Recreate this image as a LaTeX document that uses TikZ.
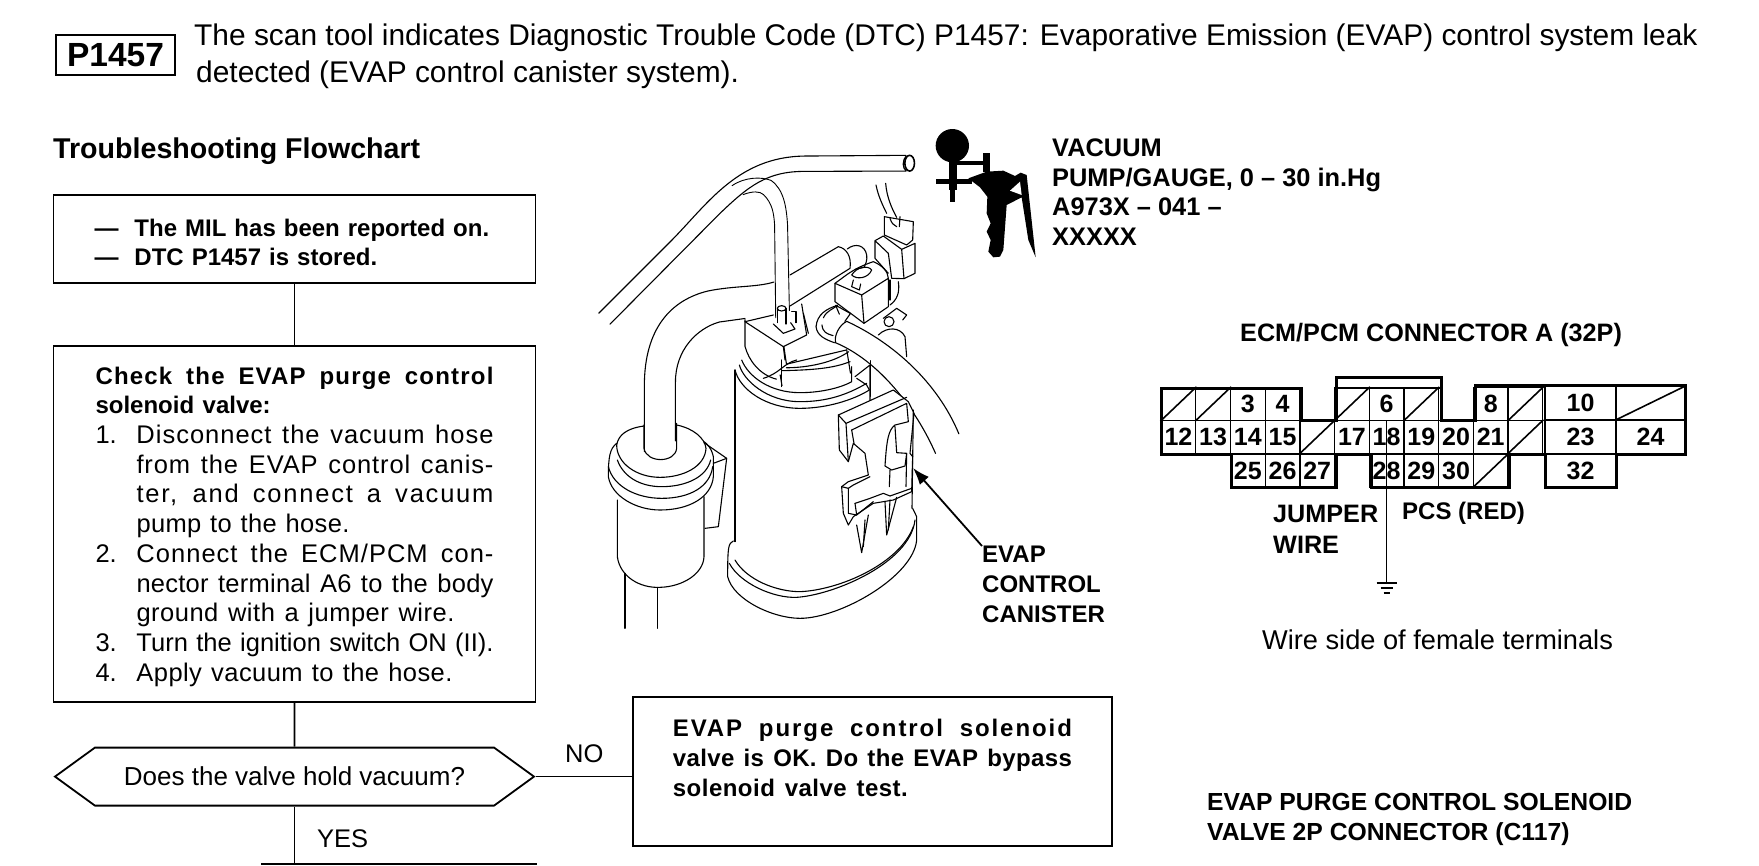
\documentclass[tikz,border=0pt]{standalone}
\usepackage{fontspec}
\setmainfont{Liberation Sans}
\usetikzlibrary{positioning, arrows.meta, shapes.symbols}

\newcommand{\bodyfont}{\fontsize{24}{29.7}\selectfont}
\newcommand{\listfont}{\fontsize{25.5}{29.7}\selectfont}
\newcommand{\fitto}[3]{\makebox[#1][s]{\spaceskip=0pt\xspaceskip=0pt\addfontfeature{LetterSpace=#2}#3}}
\newcommand{\stepline}[4]{\makebox[41pt][l]{#1}\fitto{#2}{#3}{#4}}

\begin{document}
\begin{tikzpicture}[
    x=1pt, y=-1pt,
    flowbox/.style={draw, rectangle, line width=1.8pt, inner sep=0pt, align=left, font=\bodyfont},
    label/.style={anchor=north west, inner sep=0pt, align=left, font=\bodyfont\bfseries},
    wire/.style={line width=1.6pt},
    cell/.style={draw, rectangle, line width=1.3pt, inner sep=0pt, minimum width=34.7pt, minimum height=33pt, font=\fontsize{25}{25}\selectfont\bfseries},
    outline/.style={line width=3pt, line join=miter},
    ink/.style={line width=1.1pt, line join=round, line cap=round},
    dotted ink/.style={line width=0.9pt, line cap=round}
]
\useasboundingbox (0,0) rectangle (1759,865);

% header
\node[draw, line width=2.4pt, minimum width=119pt, minimum height=40pt, inner sep=0pt, font=\fontsize{33.5}{33.5}\selectfont\bfseries] (code) at (115.5,55) {P1457};
\node[anchor=north west, inner sep=0pt, align=left, font=\fontsize{29.9}{37}\selectfont] (intro) at (194,24) {The scan tool indicates Diagnostic Trouble Code (DTC) P1457: Evaporative Emission (EVAP) control system leak\\\hspace*{2pt}detected (EVAP control canister system).};
\node[label, font=\fontsize{28.6}{30}\selectfont\bfseries] (flowtitle) at (53,138) {Troubleshooting Flowchart};

% flowchart
\node[flowbox, minimum width=482pt, minimum height=88pt, text width=400pt] (milbox) at (294.5,239) {\textbf{\rule{0pt}{24pt}\makebox[40pt][l]{---}The MIL has been reported on.}\\ \textbf{\makebox[40pt][l]{---}DTC P1457 is stored.}};
\node[flowbox, font=\listfont, minimum width=482pt, minimum height=356pt, text width=398pt, below=61pt of milbox] (solbox) {\bodyfont\rule{0pt}{23pt}\textbf{\fitto{398pt}{5}{Check the EVAP purge control}}\\ \textbf{solenoid valve:}\listfont\\ \stepline{1.}{357pt}{3.9}{Disconnect the vacuum hose}\\ \stepline{}{357pt}{3.5}{from the EVAP control canis-}\\ \stepline{}{357pt}{7}{ter, and connect a vacuum}\\ \stepline{}{213pt}{1.5}{pump to the hose.}\\ \stepline{2.}{357pt}{4}{Connect the ECM/PCM con-}\\ \stepline{}{357pt}{1}{nector terminal A6 to the body}\\ \stepline{}{318pt}{2}{ground with a jumper wire.}\\ \stepline{3.}{357pt}{0}{Turn the ignition switch ON (II).}\\ \stepline{4.}{316pt}{1.7}{Apply vacuum to the hose.}};
\node[flowbox, font=\fontsize{26}{30}\selectfont, signal, signal to=west and east, signal pointer angle=72, minimum width=479pt, minimum height=58pt, align=center, below=44pt of solbox] (holdbox) {Does the valve hold vacuum?};
\node[flowbox, anchor=north west, minimum width=479pt, minimum height=149pt, text width=399pt] (okbox) at (632,696) {\textbf{\rule{0pt}{20pt}\fitto{399pt}{8}{EVAP purge control solenoid}}\\ \textbf{\fitto{399pt}{1.5}{valve is OK. Do the EVAP bypass}}\\ \textbf{\fitto{235pt}{2}{solenoid valve test.}}\\ \mbox{}};
\coordinate (nextleft) at (261,864);
\coordinate (nextright) at (537,864);

\draw[wire] (milbox) -- (solbox);
\draw[wire] (solbox) -- (holdbox);
\draw[wire] (holdbox.east) -- (holdbox.east -| okbox.west);
\draw[wire] (holdbox.south) -- (holdbox.south |- nextleft);
\draw[wire] (nextleft) -- (nextright);
\node[anchor=base west, inner sep=0pt, font=\fontsize{25.5}{30}\selectfont] (nolabel) at (565,762) {NO};
\node[anchor=base west, inner sep=0pt, font=\fontsize{25.5}{30}\selectfont] (yeslabel) at (317,847) {YES};

% hose to the pump
\begin{scope}[shift={(560,100)}, x=0.37pt, y=-0.357pt]
\draw[ink] (105,597) -- (300,395) .. controls (400,290) and (480,160) .. (660,157) -- (935,155);
\draw[ink] (135,628) -- (430,320) .. controls (510,240) and (560,200) .. (660,200) -- (935,199);
\draw[line width=1.6pt] (945,177) ellipse (13 and 22);
\draw[line width=1.3pt] (936,156) .. controls (925,170) and (925,190) .. (936,199);
\draw[dotted ink] (465,240) .. controls (500,215) and (545,215) .. (570,225) .. controls (605,250) and (612,300) .. (615,350) -- (620,590);
\draw[dotted ink] (495,265) .. controls (520,255) and (540,255) .. (550,265) .. controls (575,290) and (578,320) .. (580,350) -- (583,610);
\draw[ink] (228,985) -- (228,800) .. controls (228,640) and (300,560) .. (400,535) .. controls (470,520) and (530,525) .. (578,510);
\draw[ink] (312,955) -- (312,790) .. controls (312,700) and (370,640) .. (430,622) -- (500,612);
\end{scope}

% solenoid valve and its connector
\begin{scope}[shift={(740,180)}, x=1pt/3, y=-1pt/3]
\draw[ink] (150,285) -- (295,200) .. controls (320,205) and (335,230) .. (330,265) -- (150,378);
\draw[ink] (322,207) .. controls (345,188) and (375,195) .. (380,225) .. controls (382,240) and (378,250) .. (372,262) -- (345,268);
\draw[ink] (285,310) -- (365,345) -- (445,295) -- (445,380) -- (372,430) -- (365,345);
\draw[ink] (285,310) -- (285,365) -- (372,430);
\draw[ink] (285,310) .. controls (320,285) and (340,265) .. (400,245) .. controls (425,255) and (445,275) .. (445,295);
\draw[ink] (335,285) .. controls (350,260) and (385,255) .. (395,270) .. controls (385,295) and (350,300) .. (335,285);
\draw[ink] (340,300) -- (335,320) -- (358,330) -- (362,312);
\draw[ink] (408,15) .. controls (415,50) and (430,80) .. (440,100);
\draw[ink] (437,10) .. controls (440,50) and (455,85) .. (470,112);
\draw[ink] (433,110) -- (520,125) -- (518,180) -- (500,195) -- (433,165) -- cycle;
\draw[ink] (450,115) .. controls (455,130) and (460,135) .. (470,140);
\draw[ink] (480,110) -- (478,140);
\draw[ink] (405,182) -- (430,168) -- (485,208) -- (525,190) -- (525,280) -- (492,296) -- (455,295) -- (445,220) -- (405,182) -- (405,235) -- (445,280);
\draw[ink] (485,208) -- (492,296);
\draw[ink] (430,415) -- (470,385) -- (500,405) -- (488,420);
\draw[ink] (447,425) circle (15);
\draw[ink] (415,465) .. controls (440,440) and (480,440) .. (495,470) -- (500,530);
\draw[ink] (450,300) -- (450,360);
\draw[ink] (475,305) .. controls (480,340) and (470,360) .. (450,375);
% nipple and top of the canister
\draw[ink] (15,425) -- (130,500) -- (200,465) -- (185,372);
\draw[ink] (15,425) -- (100,405);
\draw[ink] (130,500) -- (135,540);
\draw[ink] (112,385) -- (112,428) (138,385) -- (138,432);
\draw[ink] (125,385) ellipse (13 and 8);
\draw[ink] (100,432) -- (130,460) -- (165,447) -- (152,428);
\draw[ink] (155,395) -- (168,395) -- (168,428);
\draw[ink] (190,400) -- (205,460);
\end{scope}

% canister
\begin{scope}[shift={(600,360)}, x=1pt/3, y=-1pt/3]
\draw[ink] (405,30) -- (405,545);
\draw[ink] (400,543) .. controls (385,550) and (383,560) .. (383,650) .. controls (400,720) and (520,775) .. (600,775) .. controls (720,775) and (940,650) .. (950,540) -- (950,470) -- (938,445);
\draw[ink] (388,610) .. controls (420,670) and (520,715) .. (590,712) .. controls (700,705) and (930,610) .. (945,480);
\draw[ink] (405,600) .. controls (440,660) and (530,695) .. (600,695) .. controls (720,690) and (900,610) .. (940,500);
\draw[ink] (405,30) .. controls (420,90) and (500,145) .. (600,145) .. controls (680,145) and (760,120) .. (808,90);
\draw[ink] (418,15) .. controls (430,60) and (500,125) .. (600,125) .. controls (680,125) and (740,105) .. (800,70);
\draw[ink] (425,0) .. controls (445,50) and (510,98) .. (600,98) .. controls (670,98) and (730,80) .. (755,65) -- (755,20);
\draw[ink] (545,0) -- (545,80);
\draw[ink] (765,50) -- (810,15) -- (810,120);
\draw[ink] (490,55) .. controls (540,40) and (550,10) .. (590,0);
\draw[ink] (545,32) .. controls (640,30) and (700,25) .. (750,5);
\draw[ink] (770,55) -- (800,75) -- (808,90);
\end{scope}

% third hose
\begin{scope}[shift={(560,100)}, x=0.37pt, y=-0.357pt]
\fill[white] (775,620) .. controls (900,680) and (1020,790) .. (1078,935) -- (1015,990) .. controls (960,860) and (860,730) .. (745,680) -- cycle;
\draw[ink] (775,620) .. controls (900,680) and (1020,790) .. (1078,935);
\draw[ink] (1015,990) .. controls (960,860) and (860,730) .. (745,680) .. controls (740,660) and (755,630) .. (775,620);
% clamp
\draw[ink] (755,600) -- (745,575) -- (785,598) -- (770,620);
\draw[ink] (712,610) .. controls (720,590) and (740,585) .. (750,575);
\draw[ink] (692,635) .. controls (695,600) and (720,585) .. (750,575);
\draw[ink] (692,635) .. controls (695,660) and (715,670) .. (742,680);
\draw[ink] (708,630) .. controls (710,650) and (720,655) .. (738,660);
\draw[ink] (500,615) -- (500,690) .. controls (510,730) and (540,770) .. (585,782);
\draw[ink] (605,690) -- (612,740) -- (775,700);
\draw[ink] (612,750) .. controls (670,750) and (740,735) .. (780,705);
\draw[ink] (775,700) -- (785,765);
\draw[ink] (840,730) -- (840,830);
\draw[ink] (595,770) -- (600,800);
\end{scope}

\begin{scope}[shift={(600,360)}, x=1pt/3, y=-1pt/3]
% bracket on the canister
\draw[ink, fill=white] (715,165) -- (880,90) -- (925,125) -- (942,160) -- (930,280) -- (938,290) -- (935,395) -- (880,420) -- (820,430) -- (760,470) -- (745,495) -- (730,460) -- (725,380) -- (745,365) -- (805,345) -- (795,280) -- (760,250) -- (745,305) -- (718,270) -- cycle;
\draw[ink] (715,165) -- (738,190) -- (920,112);
\draw[ink] (738,190) -- (745,305);
\draw[ink] (755,210) -- (920,130) -- (925,185) -- (885,195) .. controls (865,210) and (860,240) .. (855,318) -- (875,330) -- (915,318) -- (920,280) -- (890,278) -- (885,200);
\draw[ink] (755,210) -- (762,250);
\draw[ink] (725,380) -- (745,385) -- (760,375) -- (810,350);
\draw[ink] (745,385) -- (745,460) -- (770,465) -- (820,425);
\draw[ink] (765,430) -- (770,465);
\draw[ink] (765,430) -- (810,415) -- (850,400) -- (870,408) -- (935,385);
\draw[ink] (870,330) -- (868,380);
\draw[ink] (920,280) -- (918,380);
\draw[ink] (770,495) -- (785,578) -- (805,465);
\draw[ink] (795,480) -- (790,560);
\draw[ink] (855,425) -- (860,525) -- (890,412);
\draw[ink] (870,420) -- (865,510);
\draw[ink] (940,150) -- (936,445);
% filter
\draw[ink] (132,198) .. controls (80,205) and (55,225) .. (50,255) .. controls (50,310) and (110,352) .. (180,352) .. controls (250,352) and (315,320) .. (318,265) .. controls (315,235) and (280,205) .. (230,195);
\draw[ink] (50,250) .. controls (30,265) and (25,290) .. (25,350) .. controls (35,410) and (110,450) .. (180,450) .. controls (270,450) and (335,410) .. (340,350) -- (340,290) .. controls (335,265) and (320,250) .. (312,245);
\draw[ink] (25,320) .. controls (40,380) and (110,415) .. (185,415) .. controls (270,415) and (330,380) .. (338,320);
\draw[ink] (52,300) .. controls (70,350) and (120,380) .. (185,380) .. controls (260,380) and (320,350) .. (332,300);
\draw[ink] (52,420) -- (52,590) .. controls (60,650) and (120,685) .. (180,682) .. controls (250,680) and (310,640) .. (312,590) -- (312,410);
\draw[ink] (132,195) -- (132,265) .. controls (140,310) and (225,310) .. (230,265) -- (230,190);
\draw[ink] (312,248) -- (380,295) -- (355,500) -- (315,505);
\draw[ink] (340,310) -- (380,295);
\draw[ink] (75,640) -- (75,805);
\draw[ink] (172,682) -- (172,805);
\end{scope}

% pump
\begin{scope}[shift={(900,100)}, x=1pt/3, y=-1pt/3]
\fill (157,137) circle (50);
\fill (146,182) rectangle (172,270);
\fill (150,265) rectangle (165,305);
\fill (108,236) rectangle (215,252);
\fill (170,182) rectangle (250,195);
\fill (248,160) rectangle (270,215);
\fill (205,235) -- (260,215) -- (310,212) -- (345,228) -- (362,218) -- (380,225) -- (407,472) -- (385,420) -- (365,292) -- (320,315) -- (310,450) -- (300,470) -- (280,472) -- (265,455) -- (272,420) -- (260,395) -- (272,370) -- (260,340) -- (262,290) -- (240,262) -- cycle;
\fill[white] (330,272) -- (365,285) -- (360,245) -- cycle;
\end{scope}

% labels
\node[label, font=\fontsize{25.4}{29.7}\selectfont\bfseries] (pumplabel) at (1052,138.5) {VACUUM\\ PUMP/GAUGE, 0 -- 30 in.Hg\\ A973X -- 041 --\\ XXXXX};
\node[label] (canisterlabel) at (982,546) {EVAP\\ CONTROL\\ CANISTER};
\coordinate (canistertip) at (913,468);
\draw[-{Latex[length=17pt,width=12pt]}, line width=1.8pt] (canisterlabel.north west) -- (canistertip);
\node[label, font=\fontsize{25.2}{30}\selectfont\bfseries] (ecmtitle) at (1240,323.5) {ECM/PCM CONNECTOR A (32P)};
\node[label, font=\fontsize{25.2}{31}\selectfont\bfseries] (jumperlabel) at (1273,505) {JUMPER\\ WIRE};
\node[label] (pcslabel) at (1402,502) {PCS (RED)};
\node[label, font=\fontsize{27.2}{30}\selectfont] (sidelabel) at (1262,629.5) {Wire side of female terminals};
\node[label, font=\fontsize{24.7}{29.7}\selectfont\bfseries] (purgelabel) at (1207,793) {EVAP PURGE CONTROL SOLENOID\\ VALVE 2P CONNECTOR (C117)};

% connector A
\foreach \col/\ypos/\txt in {2/404/3, 3/404/4, 6/404/6, 9/404/8,
    0/437/12, 1/437/13, 2/437/14, 3/437/15, 5/437/17, 6/437/18, 7/437/19, 8/437/20, 9/437/21,
    2/470.5/25, 3/470.5/26, 4/470.5/27, 6/470.5/28, 7/470.5/29, 8/470.5/30}
    \node[cell] (a\txt) at ({1178.4+34.7*\col},\ypos) {\txt};
\foreach \col/\ypos/\tag in {0/404/a, 1/404/b, 5/404/c, 7/404/d, 10/404/e, 4/437/f, 10/437/g, 9/470.5/h} {
    \node[cell] (blank\tag) at ({1178.4+34.7*\col},\ypos) {};
    \draw[wire] (blank\tag.south west) -- (blank\tag.north east);
}
\node[cell, minimum width=71pt] (a10) at (1580.5,403) {10};
\node[cell, minimum width=71pt] (a23) at (1580.5,437) {23};
\node[cell, minimum width=71pt] (a32) at (1580.5,470.5) {32};
\node[cell, minimum width=69pt] (blanki) at (1650.5,403) {};
\draw[wire] (blanki.south west) -- (blanki.north east);
\node[cell, minimum width=69pt] (a24) at (1650.5,437) {24};
\draw[outline] (1161,454) -- (1161,388) -- (1301,388) -- (1301,420) -- (1336,420) -- (1336,377) -- (1441,377) -- (1441,420) -- (1475,420) -- (1475,385) -- (1685,385) -- (1685,454) -- (1616,454) -- (1616,487) -- (1545,487) -- (1545,454) -- (1509,454) -- (1509,487) -- (1371,487) -- (1371,454) -- (1336,454) -- (1336,487) -- (1231,487) -- (1231,454) -- cycle;
\draw[line width=1.3pt] (1336,388) -- (1441,388);
\draw[wire] (a6.south) -- ++(0,162) coordinate (gnd);
\draw[wire] (gnd) ++(-10,0) -- ++(20,0);
\draw[wire] (gnd) ++(-6,5) -- ++(12,0);
\draw[wire] (gnd) ++(-3,10) -- ++(6,0);
\end{tikzpicture}
\end{document}
